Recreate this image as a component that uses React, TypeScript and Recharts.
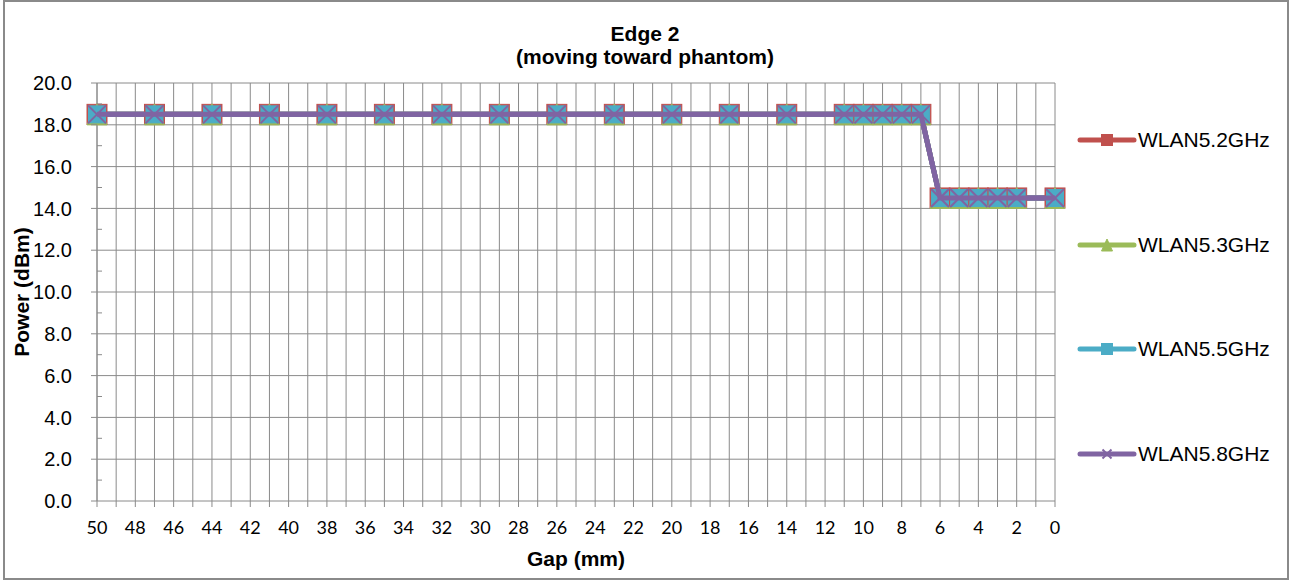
import React from 'react';
import {
  LineChart,
  Line,
  XAxis,
  YAxis,
  CartesianGrid,
  ReferenceLine,
  Legend,
} from 'recharts';

// gap (mm) where each power reading was taken
const GAPS = [50, 47, 44, 41, 38, 35, 32, 29, 26, 23, 20, 17, 14, 11, 10, 9, 8, 7, 6, 5, 4, 3, 2, 0];

const WLAN52 = [18.5, 18.5, 18.5, 18.5, 18.5, 18.5, 18.5, 18.5, 18.5, 18.5, 18.5, 18.5, 18.5, 18.5, 18.5, 18.5, 18.5, 18.5, 14.5, 14.5, 14.5, 14.5, 14.5, 14.5];
const WLAN53 = [18.5, 18.5, 18.5, 18.5, 18.5, 18.5, 18.5, 18.5, 18.5, 18.5, 18.5, 18.5, 18.5, 18.5, 18.5, 18.5, 18.5, 18.5, 14.5, 14.5, 14.5, 14.5, 14.5, 14.5];
const WLAN55 = [18.5, 18.5, 18.5, 18.5, 18.5, 18.5, 18.5, 18.5, 18.5, 18.5, 18.5, 18.5, 18.5, 18.5, 18.5, 18.5, 18.5, 18.5, 14.5, 14.5, 14.5, 14.5, 14.5, 14.5];
const WLAN58 = [18.5, 18.5, 18.5, 18.5, 18.5, 18.5, 18.5, 18.5, 18.5, 18.5, 18.5, 18.5, 18.5, 18.5, 18.5, 18.5, 18.5, 18.5, 14.5, 14.5, 14.5, 14.5, 14.5, 14.5];

// x ticks every 1 mm (labels every 2), y ticks every 1 dBm (labels/gridlines every 2)
const X_TICKS = Array.from({ length: 51 }, (_, i) => i);
const Y_TICKS = Array.from({ length: 21 }, (_, i) => i);
const Y_GRID = [2, 4, 6, 8, 10, 12, 14, 16, 18, 20];

const SERIES = [
  { key: 'WLAN5.2GHz', color: '#C0504D', marker: 'square' },
  { key: 'WLAN5.3GHz', color: '#9BBB59', marker: 'triangle' },
  { key: 'WLAN5.5GHz', color: '#4BACC6', marker: 'smallSquare' },
  { key: 'WLAN5.8GHz', color: '#8064A2', marker: 'x' },
];

const data = GAPS.map((gap, i) => ({
  gap,
  'WLAN5.2GHz': WLAN52[i],
  'WLAN5.3GHz': WLAN53[i],
  'WLAN5.5GHz': WLAN55[i],
  'WLAN5.8GHz': WLAN58[i],
}));

const GRID = '#8a8a8a';
const ARIAL = '"Liberation Sans", Arial, sans-serif';

function markerShape(kind: string, color: string, cx: number, cy: number, s: number, key?: string) {
  const h = s / 2;
  if (kind === 'square') {
    return <rect key={key} x={cx - h} y={cy - h} width={s} height={s} fill={color} stroke={color} strokeWidth={1} />;
  }
  if (kind === 'smallSquare') {
    const q = h - 1.5;
    return <rect key={key} x={cx - q} y={cy - q} width={q * 2} height={q * 2} fill={color} stroke={color} strokeWidth={1} />;
  }
  if (kind === 'triangle') {
    return (
      <polygon
        key={key}
        points={`${cx},${cy - h - 0.5} ${cx + h},${cy + h + 0.5} ${cx - h},${cy + h + 0.5}`}
        fill={color}
        stroke={color}
        strokeWidth={1}
      />
    );
  }
  const q = h - 1;
  return (
    <g key={key}>
      <line x1={cx - q} y1={cy - q} x2={cx + q} y2={cy + q} stroke={color} strokeWidth={2} />
      <line x1={cx - q} y1={cy + q} x2={cx + q} y2={cy - q} stroke={color} strokeWidth={2} />
    </g>
  );
}

function YTick(props: any) {
  const { x, y, payload } = props;
  const v = payload.value as number;
  if (v % 2 !== 0) {
    return <line x1={x} x2={x + 5} y1={y} y2={y} stroke={GRID} />;
  }
  return (
    <g>
      <line x1={x - 6} x2={x} y1={y} y2={y} stroke={GRID} />
      <text x={x - 25} y={y} dy="0.36em" textAnchor="end" fontFamily={ARIAL} fontSize={20} fill="#000">
        {v.toFixed(1)}
      </text>
    </g>
  );
}

function LegendBox() {
  return (
    <div>
      {SERIES.map((s) => (
        <div key={s.key} style={{ height: 104.5, display: 'flex', alignItems: 'center' }}>
          <svg width={60} height={16} style={{ display: 'block' }}>
            <line x1={3} x2={57} y1={8} y2={8} stroke={s.color} strokeWidth={5} strokeLinecap="round" />
            {markerShape(s.marker === 'smallSquare' ? 'square' : s.marker, s.color, 30, 8, 11)}
          </svg>
          <span style={{ fontFamily: ARIAL, fontSize: 21, color: '#000', marginLeft: 1 }}>{s.key}</span>
        </div>
      ))}
    </div>
  );
}

export default function App() {
  return (
    <div style={{ position: 'absolute', left: 0, top: 0, width: 1290, height: 581, background: '#fff' }}>
      <div
        style={{
          position: 'absolute',
          left: 3,
          top: 0,
          width: 1286,
          height: 580,
          boxSizing: 'border-box',
          border: `2px solid ${GRID}`,
        }}
      />
      <div
        style={{
          position: 'absolute',
          left: 0,
          width: 1290,
          top: 22,
          textAlign: 'center',
          fontFamily: ARIAL,
          fontWeight: 'bold',
          fontSize: 21,
          lineHeight: '23px',
          color: '#000',
        }}
      >
        Edge 2
        <br />
        (moving toward phantom)
      </div>
      <div style={{ position: 'absolute', left: 0, top: 0 }}>
        <LineChart width={1290} height={581} data={data} margin={{ top: 83, right: 235, bottom: 10, left: 0 }}>
          <CartesianGrid horizontal={false} stroke={GRID} strokeWidth={1} />
          {Y_GRID.map((v) => (
            <ReferenceLine key={v} y={v} stroke={GRID} strokeWidth={1} />
          ))}
          <XAxis
            dataKey="gap"
            type="number"
            domain={[0, 50]}
            reversed
            ticks={X_TICKS}
            interval={0}
            height={70}
            tickSize={6}
            tickMargin={14}
            stroke={GRID}
            tickFormatter={(v: number) => (v % 2 === 0 ? String(v) : '')}
            tick={{ fontFamily: 'Lato, sans-serif', fontSize: 18, fill: '#000' }}
            label={{
              value: 'Gap (mm)',
              position: 'insideBottom',
              offset: 5,
              style: { fontFamily: ARIAL, fontWeight: 'bold', fontSize: 21, fill: '#000' },
            }}
          />
          <YAxis
            type="number"
            domain={[0, 20]}
            ticks={Y_TICKS}
            interval={0}
            width={97}
            tickSize={0}
            tickMargin={0}
            tickLine={false}
            stroke={GRID}
            tick={YTick}
            label={{
              value: 'Power (dBm)',
              angle: -90,
              position: 'insideLeft',
              offset: 22,
              style: { textAnchor: 'middle', fontFamily: ARIAL, fontWeight: 'bold', fontSize: 21, fill: '#000' },
            }}
          />
          <Legend
            layout="horizontal"
            verticalAlign="middle"
            align="center"
            wrapperStyle={{ left: 1077, top: 88, width: 213, height: 418 }}
            content={() => <LegendBox />}
          />
          {SERIES.map((s) => (
            <Line
              key={s.key}
              dataKey={s.key}
              stroke={s.color}
              strokeWidth={5}
              isAnimationActive={false}
              activeDot={false}
              dot={(p: any) => markerShape(s.marker, s.color, p.cx, p.cy, 20, `${s.key}-${p.index}`)}
            />
          ))}
          {/* the last series' line sits over all the markers, as in the original */}
          <Line
            dataKey="WLAN5.8GHz"
            stroke="#8064A2"
            strokeWidth={5}
            dot={false}
            activeDot={false}
            legendType="none"
            isAnimationActive={false}
            {...({ zIndex: 700 } as any)}
          />
        </LineChart>
      </div>
    </div>
  );
}
